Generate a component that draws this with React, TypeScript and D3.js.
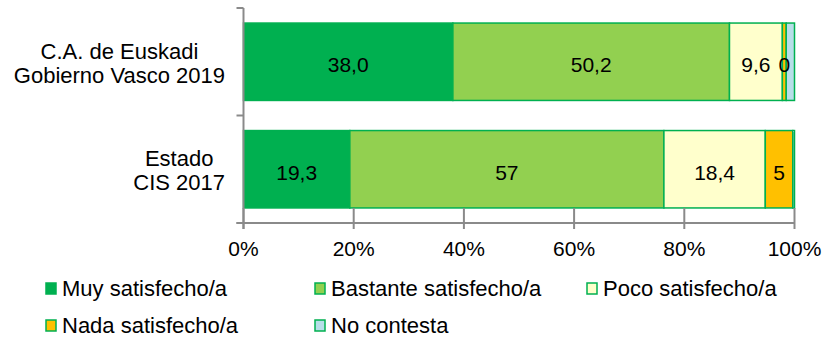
import React, { useEffect, useRef } from "react";
import * as d3 from "d3";

const categories: string[][] = [
  ["C.A. de Euskadi", "Gobierno Vasco 2019"],
  ["Estado", "CIS 2017"],
];
const seriesNames = [
  "Muy satisfecho/a",
  "Bastante satisfecho/a",
  "Poco satisfecho/a",
  "Nada satisfecho/a",
  "No contesta",
];
const muy = [38.0, 19.3];
const bastante = [50.2, 57];
const poco = [9.6, 18.4];
const nada = [0.7, 5];
const noContesta = [1.5, 0.3];
const muyLabels = ["38,0", "19,3"];
const bastanteLabels = ["50,2", "57"];
const pocoLabels = ["9,6", "18,4"];
const nadaLabels = ["0", "5"];
const noContestaLabels = ["", ""];
const xTicks = [0, 20, 40, 60, 80, 100];
const xTickLabels = ["0%", "20%", "40%", "60%", "80%", "100%"];
const colors = ["#00B050", "#92D050", "#FFFFCC", "#FFC000", "#B7DEE8"];

const W = 825;
const H = 338;
const FONT = "'Liberation Sans', Arial, sans-serif";

export default function App() {
  const ref = useRef<SVGSVGElement | null>(null);

  useEffect(() => {
    const svg = d3.select(ref.current);
    svg.selectAll("*").remove();

    const series = [muy, bastante, poco, nada, noContesta];
    const labels = [muyLabels, bastanteLabels, pocoLabels, nadaLabels, noContestaLabels];

    const x = d3.scaleLinear().domain([0, 100]).range([243.5, 794.5]);
    const y = d3
      .scaleBand<number>()
      .domain(categories.map((_, i) => i))
      .range([8, 223])
      .paddingInner(0.28)
      .paddingOuter(0.14);

    const axisColor = "#8a8a8a";
    const g = svg.append("g");

    // bars
    categories.forEach((_, ci) => {
      let acc = 0;
      series.forEach((s, si) => {
        const v = s[ci];
        const x0 = x(acc);
        const x1 = x(acc + v);
        g.append("rect")
          .attr("x", x0)
          .attr("y", y(ci)!)
          .attr("width", Math.max(0, x1 - x0))
          .attr("height", y.bandwidth())
          .attr("fill", colors[si])
          .attr("stroke", "#00B050")
          .attr("stroke-width", 1.5);
        acc += v;
      });
    });

    // value labels
    categories.forEach((_, ci) => {
      let acc = 0;
      series.forEach((s, si) => {
        const v = s[ci];
        const lab = labels[si][ci];
        if (lab) {
          g.append("text")
            .attr("x", x(acc + v / 2))
            .attr("y", y(ci)! + y.bandwidth() / 2 + 10.5)
            .attr("text-anchor", "middle")
            .attr("font-family", FONT)
            .attr("font-size", 21)
            .attr("fill", "#000")
            .text(lab);
        }
        acc += v;
      });
    });

    // y axis
    const yTop = 8;
    const yBot = 223;
    g.append("line")
      .attr("x1", x(0)).attr("x2", x(0))
      .attr("y1", yTop).attr("y2", 229)
      .attr("stroke", axisColor).attr("stroke-width", 2);
    const yTickPos = [yTop, (y(0)! + y.bandwidth() + y(1)!) / 2, yBot];
    yTickPos.forEach((p) => {
      g.append("line")
        .attr("x1", x(0) - 7).attr("x2", x(0))
        .attr("y1", p).attr("y2", p)
        .attr("stroke", axisColor).attr("stroke-width", 2);
    });

    // x axis
    g.append("line")
      .attr("x1", x(0) - 7).attr("x2", x(100))
      .attr("y1", yBot).attr("y2", yBot)
      .attr("stroke", axisColor).attr("stroke-width", 2);
    xTicks.forEach((t, i) => {
      g.append("line")
        .attr("x1", x(t)).attr("x2", x(t))
        .attr("y1", 208).attr("y2", 229)
        .attr("stroke", axisColor).attr("stroke-width", 2);
      g.append("text")
        .attr("x", x(t))
        .attr("y", 256)
        .attr("text-anchor", "middle")
        .attr("font-family", FONT)
        .attr("font-size", 21)
        .attr("fill", "#000")
        .text(xTickLabels[i]);
    });

    // category labels
    const rightEdge = 225;
    categories.forEach((lines, ci) => {
      const cy = y(ci)! + y.bandwidth() / 2;
      const tg = g.append("g");
      const texts = lines.map((ln, li) =>
        tg.append("text")
          .attr("y", cy - 3 + li * 24)
          .attr("text-anchor", "middle")
          .attr("font-family", FONT)
          .attr("font-size", 22)
          .attr("fill", "#000")
          .text(ln)
      );
      const maxW = d3.max(texts, (t) => (t.node() as SVGTextElement).getComputedTextLength()) || 0;
      texts.forEach((t) => t.attr("x", rightEdge - maxW / 2));
    });

    // legend
    const legendItems = [
      { i: 0, sx: 46, ty: 296 },
      { i: 1, sx: 315, ty: 296 },
      { i: 2, sx: 587, ty: 296 },
      { i: 3, sx: 46, ty: 333 },
      { i: 4, sx: 315, ty: 333 },
    ];
    legendItems.forEach((it) => {
      g.append("rect")
        .attr("x", it.sx)
        .attr("y", it.ty - 13)
        .attr("width", 10)
        .attr("height", 11)
        .attr("fill", colors[it.i])
        .attr("stroke", "#00B050")
        .attr("stroke-width", 1.5);
      g.append("text")
        .attr("x", it.sx + 16)
        .attr("y", it.ty)
        .attr("font-family", FONT)
        .attr("font-size", 22)
        .attr("fill", "#000")
        .text(seriesNames[it.i]);
    });
  }, []);

  return (
    <svg
      ref={ref}
      width={W}
      height={H}
      style={{ position: "fixed", left: 0, top: 0, background: "#fff", display: "block" }}
    />
  );
}
